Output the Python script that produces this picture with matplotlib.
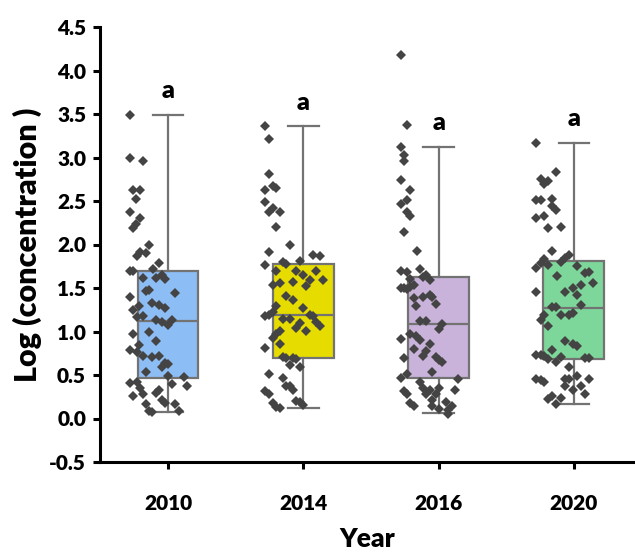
import matplotlib
matplotlib.use("Agg")
import matplotlib.pyplot as plt
import numpy as np

plt.rcParams['font.family'] = ['Lato', 'DejaVu Sans']
plt.rcParams['font.weight'] = 'heavy'

years = ["2010", "2014", "2016", "2020"]
box_colors = ["#8DBDF5", "#E6DC00", "#C9B3DB", "#7DD79A"]
letters = ["a", "a", "a", "a"]

# box statistics: lower whisker, Q1, median, Q3, upper whisker
whis_lo = [0.072, 0.115, 0.066, 0.169]
q1 = [0.468, 0.698, 0.468, 0.686]
medians = [1.126, 1.187, 1.088, 1.272]
q3 = [1.693, 1.778, 1.624, 1.816]
whis_hi = [3.494, 3.360, 3.123, 3.169]

# raw points: horizontal jitter offset and value
dx_2010 = [-0.281, -0.281, -0.187, -0.261, -0.207, -0.237, -0.281, -0.207, -0.237, -0.256,
           -0.138, -0.207, -0.163, -0.231, -0.067, -0.113, -0.281, -0.256, -0.047, -0.022,
           -0.187, -0.091, -0.163, -0.138, 0.052, -0.281, -0.116, -0.067, -0.212, -0.261,
           -0.022, -0.231, -0.187, -0.091, -0.047, 0.027, 0.002, -0.138, -0.261, -0.091,
           -0.212, -0.281, -0.231, -0.187, -0.116, -0.067, -0.022, 0.002, -0.047, -0.163,
           0.002, 0.118, -0.281, -0.231, 0.027, 0.143, -0.207, -0.067, -0.187, -0.091,
           -0.261, -0.047, -0.022, -0.163, 0.052, -0.138, 0.084, -0.116]
v_2010 = [3.494, 2.989, 2.957, 2.632, 2.632, 2.525, 2.371, 2.307, 2.230, 2.192,
          1.992, 1.916, 1.897, 1.866, 1.790, 1.724, 1.693, 1.701, 1.655, 1.606,
          1.613, 1.613, 1.463, 1.475, 1.437, 1.399, 1.322, 1.299, 1.291, 1.245,
          1.272, 1.164, 1.176, 1.130, 1.111, 1.130, 1.069, 0.997, 0.966, 0.889,
          0.843, 0.782, 0.767, 0.716, 0.709, 0.724, 0.640, 0.621, 0.590, 0.532,
          0.486, 0.475, 0.410, 0.422, 0.391, 0.371, 0.353, 0.333, 0.287, 0.295,
          0.264, 0.218, 0.180, 0.172, 0.161, 0.084, 0.084, 0.072]

dx_2014 = [-0.281, -0.251, -0.251, -0.281, -0.224, -0.205, -0.281, -0.224, -0.251, -0.175,
           -0.205, -0.101, -0.251, 0.072, 0.120, -0.027, -0.281, -0.150, -0.126, -0.202,
           -0.054, 0.094, -0.005, 0.046, 0.146, -0.079, -0.175, -0.227, 0.022, -0.126,
           -0.079, -0.202, -0.005, -0.227, -0.281, -0.251, 0.046, 0.072, -0.150, -0.101,
           0.094, -0.027, 0.120, -0.052, 0.022, -0.175, -0.202, -0.227, -0.175, -0.281,
           -0.150, -0.126, -0.076, -0.052, -0.101, -0.027, -0.251, -0.150, -0.126, -0.101,
           -0.076, -0.281, -0.251, -0.052, -0.027, -0.005, -0.227, -0.202, -0.175]
v_2014 = [3.360, 3.207, 2.805, 2.632, 2.670, 2.644, 2.486, 2.422, 2.371, 2.376,
          2.203, 1.989, 1.912, 1.885, 1.866, 1.808, 1.770, 1.797, 1.778, 1.693,
          1.693, 1.701, 1.647, 1.590, 1.590, 1.571, 1.555, 1.540, 1.521, 1.406,
          1.360, 1.291, 1.272, 1.226, 1.176, 1.187, 1.187, 1.176, 1.149, 1.149,
          1.111, 1.092, 1.061, 1.042, 1.011, 1.003, 0.966, 0.928, 0.862, 0.813,
          0.705, 0.698, 0.698, 0.686, 0.613, 0.594, 0.514, 0.460, 0.379, 0.371,
          0.325, 0.314, 0.287, 0.199, 0.187, 0.153, 0.180, 0.130, 0.115]

dx_2016 = [-0.281, -0.234, -0.281, -0.259, -0.259, -0.281, -0.209, -0.234, -0.281, -0.234,
           -0.209, -0.259, -0.160, -0.281, -0.234, -0.140, -0.209, -0.116, -0.091, -0.067,
           -0.281, -0.259, -0.234, -0.209, -0.185, -0.185, -0.116, -0.067, -0.047, -0.022,
           -0.165, -0.140, -0.091, 0.024, 0.002, -0.281, -0.209, -0.165, -0.135, -0.067,
           -0.185, -0.091, -0.116, -0.022, 0.002, 0.024, -0.259, -0.047, -0.234, -0.281,
           0.143, -0.140, -0.116, 0.002, -0.259, -0.234, -0.067, 0.124, -0.091, -0.022,
           -0.047, -0.209, -0.185, 0.052, 0.096, -0.047, 0.002, 0.072, 0.072]
v_2016 = [4.176, 3.368, 3.123, 3.023, 2.958, 2.747, 2.621, 2.506, 2.460, 2.371,
          2.326, 2.142, 1.923, 1.701, 1.682, 1.720, 1.609, 1.624, 1.644, 1.590,
          1.502, 1.502, 1.491, 1.514, 1.529, 1.387, 1.399, 1.425, 1.399, 1.318,
          1.291, 1.126, 1.126, 1.088, 1.031, 0.916, 0.966, 0.946, 0.900, 0.851,
          0.801, 0.774, 0.724, 0.709, 0.670, 0.652, 0.698, 0.537, 0.514, 0.460,
          0.456, 0.417, 0.353, 0.353, 0.314, 0.287, 0.333, 0.322, 0.276, 0.287,
          0.218, 0.180, 0.149, 0.187, 0.149, 0.141, 0.111, 0.095, 0.046]

dx_2020 = [-0.283, -0.133, -0.246, -0.190, -0.219, -0.283, -0.246, -0.160, -0.160, -0.133,
           -0.283, -0.219, -0.190, -0.098, -0.160, -0.037, -0.067, -0.098, -0.219, -0.246,
           -0.283, -0.190, 0.020, 0.086, 0.113, -0.128, 0.143, 0.050, -0.010, -0.067,
           0.020, -0.283, 0.050, -0.160, -0.133, -0.098, -0.037, -0.010, -0.219, -0.246,
           -0.190, -0.067, -0.010, 0.020, -0.160, -0.283, -0.246, -0.219, -0.190, -0.098,
           -0.133, 0.086, 0.113, -0.037, -0.283, -0.246, -0.219, -0.067, -0.037, 0.020,
           0.113, -0.067, 0.050, -0.010, 0.083, -0.160, -0.190, -0.098, -0.133]
v_2020 = [3.169, 2.831, 2.755, 2.728, 2.698, 2.506, 2.506, 2.525, 2.448, 2.394,
          2.307, 2.333, 2.184, 2.203, 1.931, 1.885, 1.847, 1.797, 1.828, 1.782,
          1.732, 1.759, 1.751, 1.667, 1.682, 1.636, 1.560, 1.540, 1.502, 1.452,
          1.422, 1.452, 1.310, 1.284, 1.284, 1.187, 1.184, 1.207, 1.184, 1.130,
          1.061, 0.889, 0.851, 0.839, 0.785, 0.728, 0.728, 0.724, 0.686, 0.709,
          0.647, 0.698, 0.698, 0.594, 0.456, 0.440, 0.422, 0.456, 0.456, 0.494,
          0.456, 0.379, 0.371, 0.325, 0.287, 0.256, 0.226, 0.230, 0.161]

dx_all = [dx_2010, dx_2014, dx_2016, dx_2020]
v_all = [v_2010, v_2014, v_2016, v_2020]

fig = plt.figure(figsize=(6.35, 5.52), dpi=100)
ax = fig.add_axes([100 / 635, 90 / 552, 535 / 635, 435 / 552])

positions = np.arange(len(years))
stats = []
for i in range(len(years)):
    stats.append(dict(whislo=whis_lo[i], q1=q1[i], med=medians[i], q3=q3[i],
                      whishi=whis_hi[i], fliers=[]))

gray = "#737373"
bp = ax.bxp(stats, positions=positions, widths=0.45, patch_artist=True,
            showfliers=False,
            boxprops=dict(edgecolor=gray, linewidth=1.6),
            medianprops=dict(color=gray, linewidth=1.6),
            whiskerprops=dict(color=gray, linewidth=1.6),
            capprops=dict(color=gray, linewidth=1.6),
            capwidths=0.225)
for patch, c in zip(bp['boxes'], box_colors):
    patch.set_facecolor(c)
    patch.set_zorder(2)

for i in range(len(years)):
    xs = positions[i] + np.array(dx_all[i])
    ax.plot(xs, v_all[i], linestyle='none', marker='D', markersize=4.8,
            color='#444444', markeredgewidth=0, zorder=4)
    ax.text(positions[i], whis_hi[i] + 0.27, letters[i], ha='center', va='center',
            fontsize=18, fontweight='heavy', color='black')

ax.set_xlim(-0.503, 3.452)
ax.set_ylim(-0.5, 4.5)
ax.set_yticks(np.arange(-0.5, 4.51, 0.5))
ax.set_yticklabels([f"{t:.1f}" for t in np.arange(-0.5, 4.51, 0.5)])
ax.set_xticks(positions)
ax.set_xticklabels(years)

for s in ['top', 'right']:
    ax.spines[s].set_visible(False)
for s in ['left', 'bottom']:
    ax.spines[s].set_linewidth(2.2)
    ax.spines[s].set_color('black')

ax.tick_params(axis='both', direction='out', length=5, width=2.2, labelsize=15,
               colors='black')
ax.tick_params(axis='x', pad=18)
ax.tick_params(axis='y', pad=5)
for lab in ax.get_xticklabels() + ax.get_yticklabels():
    lab.set_fontweight('heavy')

ax.set_xlabel("Year", fontsize=19, fontweight='heavy', labelpad=10)
ax.set_ylabel("Log (concentration )", fontsize=22, fontweight='heavy', labelpad=5)

fig.savefig("out.png", dpi=100)
